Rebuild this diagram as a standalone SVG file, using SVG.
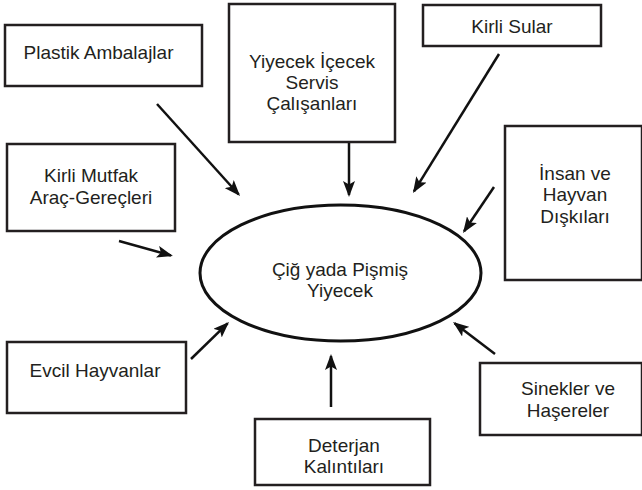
<svg xmlns="http://www.w3.org/2000/svg" width="642" height="490" viewBox="0 0 642 490">
  <style>
    .box { fill: #ffffff; stroke: #231f20; stroke-width: 2.5; }
    .ell { fill: #ffffff; stroke: #111111; stroke-width: 3; }
    .lbl { font-family: "Liberation Sans", Arial, sans-serif; font-size: 19px; fill: #231f20; text-anchor: middle; }
    .conn { stroke: #111111; stroke-width: 2.5; fill: none; marker-end: url(#arrow); }
  </style>
  <defs>
    <marker id="arrow" markerUnits="userSpaceOnUse" viewBox="0 0 16 12" refX="14" refY="6" markerWidth="16" markerHeight="12" orient="auto">
      <path d="M0,0 L16,6 L0,12 L3.5,6 Z" fill="#111111"/>
    </marker>
  </defs>
  <rect width="642" height="490" fill="#ffffff"/>

  <g id="node-plastik">
    <rect class="box" x="5" y="25" width="197" height="61"/>
    <text class="lbl" x="98.5" y="59">Plastik Ambalajlar</text>
  </g>
  <g id="node-yiyecek-servis">
    <rect class="box" x="229" y="4" width="166" height="138"/>
    <text class="lbl" x="312" y="68">Yiyecek İçecek</text>
    <text class="lbl" x="312" y="89">Servis</text>
    <text class="lbl" x="312" y="110">Çalışanları</text>
  </g>
  <g id="node-kirli-sular">
    <rect class="box" x="423" y="5" width="178" height="41"/>
    <text class="lbl" x="512" y="33">Kirli Sular</text>
  </g>
  <g id="node-kirli-mutfak">
    <rect class="box" x="7" y="144" width="168" height="87"/>
    <text class="lbl" x="91" y="182">Kirli Mutfak</text>
    <text class="lbl" x="91" y="204">Araç-Gereçleri</text>
  </g>
  <g id="node-insan">
    <rect class="box" x="505" y="126" width="137" height="154"/>
    <text class="lbl" x="575" y="180">İnsan ve</text>
    <text class="lbl" x="575" y="201">Hayvan</text>
    <text class="lbl" x="575" y="223">Dışkıları</text>
  </g>
  <g id="node-evcil">
    <rect class="box" x="7" y="342" width="179" height="71"/>
    <text class="lbl" x="95" y="377">Evcil Hayvanlar</text>
  </g>
  <g id="node-deterjan">
    <rect class="box" x="255" y="419" width="175" height="66"/>
    <text class="lbl" x="344" y="452">Deterjan</text>
    <text class="lbl" x="344" y="473">Kalıntıları</text>
  </g>
  <g id="node-sinekler">
    <rect class="box" x="480" y="363" width="162" height="72"/>
    <text class="lbl" x="568" y="395">Sinekler ve</text>
    <text class="lbl" x="568" y="417">Haşereler</text>
  </g>
  <g id="node-yiyecek">
    <ellipse class="ell" cx="340.5" cy="273" rx="140.5" ry="68"/>
    <text class="lbl" x="340" y="276">Çiğ yada Pişmiş</text>
    <text class="lbl" x="340" y="297">Yiyecek</text>
  </g>

  <g id="connectors">
    <line class="conn" x1="157" y1="104" x2="238.7" y2="194.5"/>
    <line class="conn" x1="349" y1="143" x2="349" y2="195"/>
    <line class="conn" x1="499" y1="54" x2="414" y2="191.3"/>
    <line class="conn" x1="494" y1="187" x2="464.1" y2="231.3"/>
    <line class="conn" x1="119" y1="241" x2="171" y2="255.5"/>
    <line class="conn" x1="191" y1="359" x2="227.6" y2="323.4"/>
    <line class="conn" x1="331" y1="407" x2="331" y2="356"/>
    <line class="conn" x1="495" y1="354" x2="454.6" y2="323.2"/>
  </g>
</svg>
